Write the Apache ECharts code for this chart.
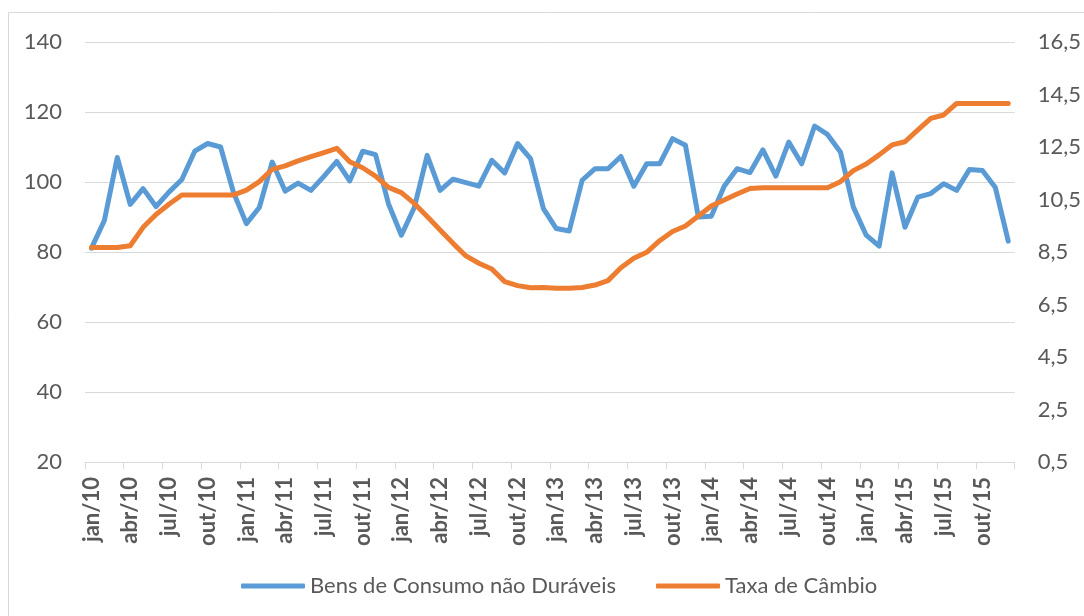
<!DOCTYPE html>
<html>
<head>
<meta charset="utf-8">
<script src="https://cdn.jsdelivr.net/npm/echarts@6/dist/echarts.min.js"></script>
<style>
  html, body { margin: 0; padding: 0; background: #ffffff; }
  #chart { width: 1084px; height: 616px; }
</style>
</head>
<body>
<div id="chart"></div>
<script>
// Monthly labels, jan/10 .. dez/15
const monthNames = ['jan', 'fev', 'mar', 'abr', 'mai', 'jun', 'jul', 'ago', 'set', 'out', 'nov', 'dez'];
const years = ['10', '11', '12', '13', '14', '15'];

// Bens de Consumo não Duráveis (left axis)
const bensConsumo = [
  81.1, 89.0, 107.0, 93.6, 98.1, 93.0, 97.1, 100.7, 108.8, 111.0, 110.0, 97.0,
  88.1, 92.7, 105.7, 97.4, 99.7, 97.6, 101.6, 105.9, 100.3, 108.8, 107.8, 93.8,
  84.8, 92.7, 107.6, 97.6, 100.8, 99.8, 98.8, 106.2, 102.6, 111.0, 106.7, 92.4,
  86.7, 86.0, 100.5, 103.8, 103.8, 107.3, 98.8, 105.2, 105.2, 112.4, 110.5, 90.0,
  90.2, 98.8, 103.8, 102.7, 109.2, 101.7, 111.4, 105.2, 116.0, 113.6, 108.6, 92.9,
  84.8, 81.7, 102.6, 87.1, 95.7, 96.7, 99.5, 97.6, 103.6, 103.3, 98.4, 83.1
];

// Taxa de Câmbio (right axis)
const taxaCambio = [
  8.67, 8.67, 8.67, 8.74, 9.44, 9.93, 10.32, 10.67, 10.67, 10.67, 10.67, 10.67,
  10.86, 11.18, 11.65, 11.78, 11.97, 12.13, 12.29, 12.45, 11.94, 11.71, 11.39, 10.96,
  10.76, 10.35, 9.85, 9.34, 8.83, 8.35, 8.07, 7.85, 7.37, 7.22, 7.14, 7.15,
  7.12, 7.12, 7.15, 7.24, 7.41, 7.90, 8.26, 8.49, 8.93, 9.28, 9.49, 9.87,
  10.25, 10.48, 10.71, 10.92, 10.95, 10.95, 10.95, 10.95, 10.95, 10.95, 11.18, 11.60,
  11.85, 12.20, 12.58, 12.70, 13.15, 13.59, 13.72, 14.16, 14.16, 14.16, 14.16, 14.16
];

// Right axis tick values
const rightTicks = [0.5, 2.5, 4.5, 6.5, 8.5, 10.5, 12.5, 14.5, 16.5];

const categories = [];
years.forEach(y => monthNames.forEach(m => categories.push(m + '/' + y)));

const FONT = 'Lato';
const TEXT = '#595959';
const GRID = '#D9D9D9';

const chart = echarts.init(document.getElementById('chart'), null, { renderer: 'canvas' });

chart.setOption({
  animation: false,
  backgroundColor: '#ffffff',
  textStyle: { fontFamily: FONT },
  graphic: [{
    type: 'rect',
    shape: { x: 8.5, y: 12.5, width: 1100, height: 700 },
    style: { fill: 'none', stroke: GRID, lineWidth: 1 },
    silent: true
  }],
  grid: { left: 85, right: 67, top: 42, bottom: 154, containLabel: false },
  legend: {
    left: 236,
    top: 570,
    itemWidth: 64,
    itemHeight: 5,
    itemGap: 40,
    icon: 'roundRect',
    textStyle: { color: TEXT, fontSize: 22, fontFamily: FONT },
    data: ['Bens de Consumo não Duráveis', 'Taxa de Câmbio']
  },
  xAxis: {
    type: 'category',
    data: categories,
    boundaryGap: true,
    axisLine: { lineStyle: { color: GRID, width: 1 } },
    axisTick: { show: true, length: 7, interval: 2, lineStyle: { color: GRID } },
    axisLabel: {
      interval: 2,
      rotate: 90,
      color: TEXT,
      fontSize: 22,
      fontWeight: 'bold',
      fontFamily: FONT,
      margin: 15
    },
    splitLine: { show: false }
  },
  yAxis: [{
    type: 'value',
    min: 20,
    max: 140,
    interval: 20,
    axisLine: { show: false },
    axisTick: { show: false },
    axisLabel: { color: TEXT, fontSize: 22, fontFamily: FONT, margin: 23 },
    splitLine: { lineStyle: { color: GRID, width: 1 } }
  }, {
    type: 'value',
    min: 0.5,
    max: 16.5,
    axisLine: { show: false },
    axisTick: { show: false },
    axisLabel: {
      customValues: rightTicks,
      color: TEXT,
      fontSize: 22,
      fontFamily: FONT,
      margin: 23,
      formatter: v => v.toFixed(1).replace('.', ',')
    },
    splitLine: { show: false }
  }],
  series: [{
    name: 'Bens de Consumo não Duráveis',
    type: 'line',
    yAxisIndex: 0,
    data: bensConsumo,
    symbol: 'none',
    lineStyle: { color: '#5B9BD5', width: 5, cap: 'round', join: 'round' },
    itemStyle: { color: '#5B9BD5' }
  }, {
    name: 'Taxa de Câmbio',
    type: 'line',
    yAxisIndex: 1,
    data: taxaCambio,
    symbol: 'none',
    lineStyle: { color: '#ED7D31', width: 5, cap: 'round', join: 'round' },
    itemStyle: { color: '#ED7D31' }
  }]
});
</script>
</body>
</html>
